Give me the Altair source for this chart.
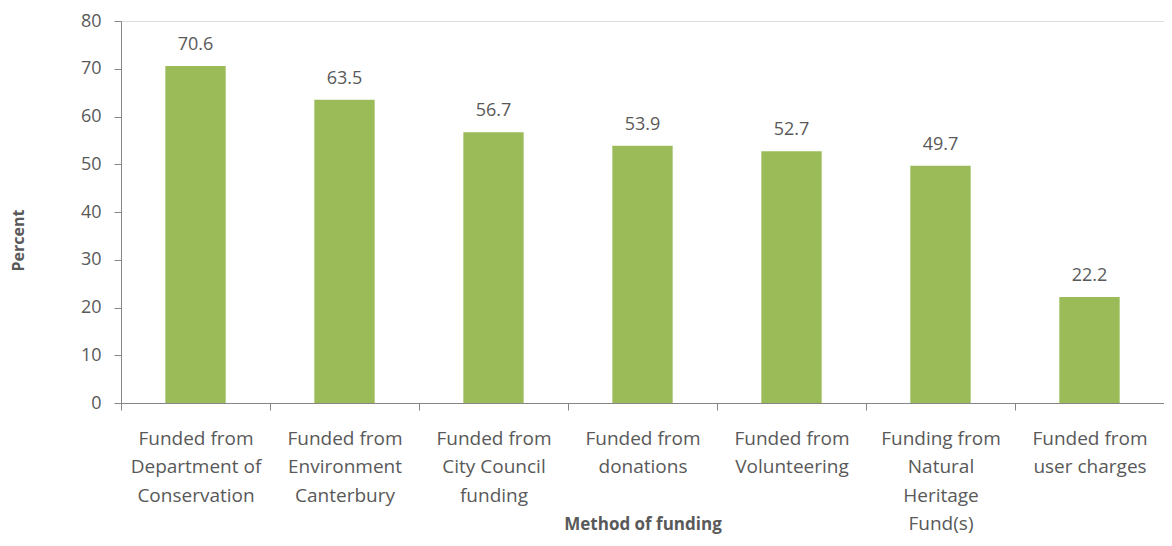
import altair as alt
import pandas as pd

categories = [
    "Funded from|Department of|Conservation",
    "Funded from|Environment|Canterbury",
    "Funded from|City Council|funding",
    "Funded from|donations",
    "Funded from|Volunteering",
    "Funding from|Natural|Heritage|Fund(s)",
    "Funded from|user charges",
]
values = [70.6, 63.5, 56.7, 53.9, 52.7, 49.7, 22.2]
y_ticks = [0, 10, 20, 30, 40, 50, 60, 70, 80]

df = pd.DataFrame({"cat": categories, "val": values})

FONT = "Open Sans"
TXT = "#595959"
GREEN = "#9BBB59"
AXIS = "#868686"
W = 1043
STEP = W / len(categories)

x_axis = alt.Axis(
    title="Method of funding",
    labelExpr="split(datum.label, '|')",
    labelAngle=0,
    labelFont=FONT,
    labelFontSize=19,
    labelColor=TXT,
    labelLineHeight=28.5,
    labelPadding=19,
    labelBaseline="top",
    ticks=True,
    tickOffset=-STEP / 2,
    labelOffset=STEP / 2,
    tickSize=7,
    tickColor=AXIS,
    domainColor=AXIS,
    titleFont=FONT,
    titleFontSize=17,
    titleFontWeight="bold",
    titleColor=TXT,
    titleY=113,
    titleBaseline="top",
    labelLimit=200,
)

x = alt.X(
    "cat:N",
    sort=categories,
    scale=alt.Scale(paddingInner=0.595, paddingOuter=0.2975),
    axis=x_axis,
)

y = alt.Y(
    "val:Q",
    scale=alt.Scale(domain=[0, 80], nice=False),
    axis=alt.Axis(
        title="Percent",
        values=y_ticks,
        grid=False,
        labelFont=FONT,
        labelFontSize=18,
        labelColor=TXT,
        labelPadding=13,
        tickSize=7,
        tickColor=AXIS,
        domainColor=AXIS,
        titleFont=FONT,
        titleFontSize=16,
        titleFontWeight="bold",
        titleColor=TXT,
        titleY=219,
        titleX=-95,
    ),
)

bars = alt.Chart(df).mark_bar(color=GREEN).encode(x=x, y=y)
labels = alt.Chart(df).mark_text(
    dy=-12, baseline="bottom", font=FONT, fontSize=18, color=TXT
).encode(x=alt.X("cat:N", sort=categories, axis=x_axis), y="val:Q", text=alt.Text("val:Q", format=".1f"))

chart = (
    alt.layer(bars, labels)
    .properties(
        width=W,
        height=382,
        autosize=alt.AutoSizeParams(type="none"),
        padding={"left": 113, "top": 13, "right": 0, "bottom": 135},
    )
    .configure_view(stroke=None)
    .configure(background="white")
)

chart.save("out.html", embed_options={"renderer": "svg", "actions": False})
